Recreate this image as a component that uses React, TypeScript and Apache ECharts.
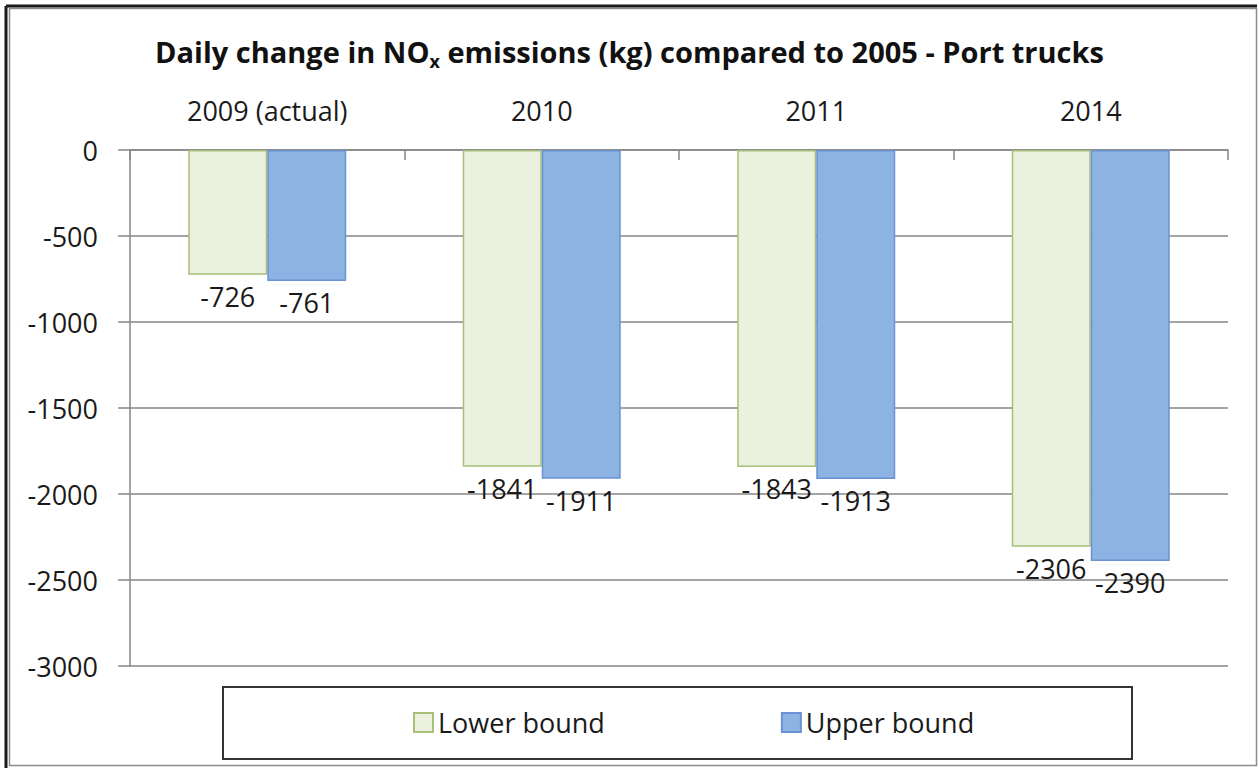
import React, { useEffect, useRef } from "react";
import * as echarts from "echarts";

const categories = ["2009 (actual)", "2010", "2011", "2014"];
const lowerBound = [-726, -1841, -1843, -2306];
const upperBound = [-761, -1911, -1913, -2390];
const seriesNames = ["Lower bound", "Upper bound"];
const yMin = -3000;
const yMax = 0;
const yInterval = 500;

const FONT = "'Open Sans', sans-serif";

export default function App() {
  const ref = useRef<HTMLDivElement>(null);
  useEffect(() => {
    if (!ref.current) return;
    const chart = echarts.init(ref.current, undefined, { renderer: "svg" });
    const labelStyle = {
      show: true,
      position: "bottom" as const,
      distance: 8,
      fontFamily: FONT,
      fontSize: 27,
      color: "#1a1a1a",
    };
    chart.setOption({
      animation: false,
      backgroundColor: "#ffffff",
      title: {
        text: "Daily change in NO{sub|x} emissions (kg) compared to 2005 - Port trucks",
        left: "center",
        top: 27,
        textStyle: {
          fontFamily: FONT,
          fontSize: 29,
          fontWeight: "bold",
          color: "#111",
          lineHeight: 38,
          rich: {
            sub: {
              fontFamily: FONT,
              fontSize: 18,
              fontWeight: "bold",
              color: "#111",
              lineHeight: 17,
              verticalAlign: "bottom",
            },
          },
        },
      },
      grid: { left: 130, right: 31, top: 150, bottom: 104, containLabel: false },
      xAxis: {
        type: "category",
        data: categories,
        position: "top",
        axisLine: { show: true, lineStyle: { color: "#868686", width: 1.5 } },
        axisTick: { show: true, inside: true, length: 10, lineStyle: { color: "#868686", width: 1.5 } },
        axisLabel: { fontFamily: FONT, fontSize: 27, color: "#1a1a1a", margin: 26 },
        splitLine: { show: false },
      },
      yAxis: {
        type: "value",
        min: yMin,
        max: yMax,
        interval: yInterval,
        axisLine: { show: true, lineStyle: { color: "#868686", width: 1.5 } },
        axisTick: { show: true, length: 12, lineStyle: { color: "#868686", width: 1.5 } },
        axisLabel: {
          fontFamily: FONT,
          fontSize: 27,
          color: "#1a1a1a",
          margin: 32,
          formatter: (v: number) => String(v),
        },
        splitLine: { show: true, lineStyle: { color: "#868686", width: 1.5 } },
      },
      legend: {
        left: 408,
        top: 704,
        itemWidth: 19,
        itemHeight: 19,
        itemGap: 176,
        icon: "rect",
        textStyle: { fontFamily: FONT, fontSize: 27, color: "#1a1a1a" },
        data: seriesNames,
      },
      series: [
        {
          name: seriesNames[0],
          type: "bar",
          data: lowerBound,
          barWidth: 79,
          barGap: "0%",
          itemStyle: { color: "#EBF1DE", borderColor: "#A9BE78", borderWidth: 1.5 },
          label: labelStyle,
        },
        {
          name: seriesNames[1],
          type: "bar",
          data: upperBound,
          barWidth: 79,
          barGap: "0%",
          itemStyle: { color: "#8DB3E2", borderColor: "#6B93D3", borderWidth: 1.5 },
          label: labelStyle,
        },
      ],
      graphic: [
        {
          type: "rect",
          shape: { x: 9.5, y: 8.5, width: 1247, height: 757 },
          style: { fill: "none", stroke: "#8c8c8c", lineWidth: 1.5 },
          silent: true,
        },
        {
          type: "line",
          shape: { x1: 6, y1: 6, x2: 1257, y2: 6 },
          style: { stroke: "#1a1a1a", lineWidth: 3 },
          silent: true,
        },
        {
          type: "line",
          shape: { x1: 6, y1: 6, x2: 6, y2: 768 },
          style: { stroke: "#1a1a1a", lineWidth: 3 },
          silent: true,
        },
        {
          type: "rect",
          shape: { x: 223, y: 687, width: 909, height: 72 },
          style: { fill: "none", stroke: "#333333", lineWidth: 2 },
          silent: true,
          z: -1,
        },
      ],
    });
    return () => chart.dispose();
  }, []);
  return (
    <div
      ref={ref}
      style={{ position: "fixed", left: 0, top: 0, width: 1259, height: 770 }}
    />
  );
}
